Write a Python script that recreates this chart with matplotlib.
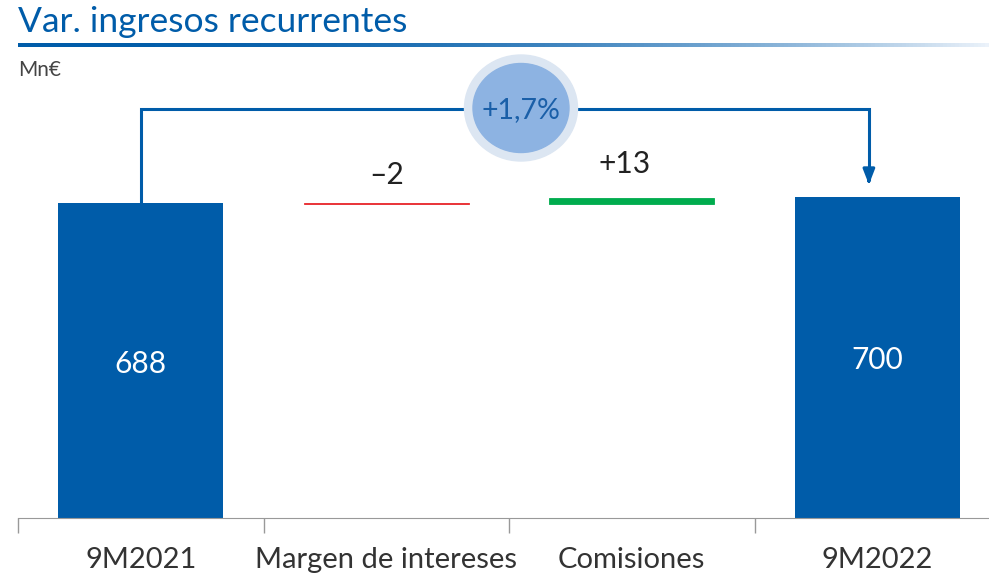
import matplotlib.pyplot as plt
import numpy as np
from matplotlib.patches import Ellipse

plt.rcParams['font.family'] = ['Lato', 'DejaVu Sans']

# data
categories = ['9M2021', 'Margen de intereses', 'Comisiones', '9M2022']
start_value = 688
deltas = [-2, 13]
end_value = 700
delta_labels = ['–2', '+13']
variation_label = '+1,7%'

blue = '#005CA9'
fig = plt.figure(figsize=(9.89, 5.77), dpi=100)

# main axes: x axis runs from 18 px to ~1000 px, baseline at 518 px
ax = fig.add_axes([18 / 989, 59 / 577, 982 / 989, 458 / 577])
x = np.arange(len(categories))
w = 0.672

ax.bar(x[0], start_value, width=w, color=blue)
ax.bar(x[3], end_value, width=w, color=blue)

base = start_value
colors = ['#E8272B', '#00AC4E']
for i, d in enumerate(deltas):
    bottom = base if d > 0 else base + d
    ax.bar(x[i + 1], abs(d), bottom=bottom, width=w, color=colors[i],
           edgecolor=colors[i], linewidth=0.6)
    base += d

ax.text(x[0], start_value / 2 - 8, str(start_value), color='white', ha='center', va='center', fontsize=21.5)
ax.text(x[3], end_value / 2 - 4, str(end_value), color='white', ha='center', va='center', fontsize=21.5)
ax.text(x[1], 748, delta_labels[0], ha='center', va='center', fontsize=21.5, color='#222222')
ax.text(x[2] - 0.028, 774, delta_labels[1], ha='center', va='center', fontsize=21.5, color='#222222')

# connector arrow
ax.plot([x[0], x[0], 2.966, 2.966], [start_value, 893, 893, 740], color=blue, lw=2.2,
        solid_joinstyle='miter')
ax.annotate('', xy=(2.966, 722), xytext=(2.966, 745),
            arrowprops=dict(arrowstyle='-|>,head_width=0.35,head_length=0.9', color=blue, lw=2.2))

ax.set_xlim(-0.5, 3.5)
ax.set_ylim(0, 1000)
ax.set_xticks(x)
ax.set_xticklabels(categories, fontsize=21, color='#333333')
ax.tick_params(axis='x', which='major', length=0, pad=21)
ax.set_xticks(np.arange(-0.5, 3.6, 1), minor=True)
ax.tick_params(axis='x', which='minor', length=11, color='#999999', width=1)
ax.set_yticks([])
for s in ['top', 'right', 'left']:
    ax.spines[s].set_visible(False)
ax.spines['bottom'].set_color('#999999')

# circle badge
cx, cy = 521 / 989, 1 - 108 / 577
fig.add_artist(Ellipse((cx, cy), 113 / 989, 106 / 577, transform=fig.transFigure,
                       color='#DCE6F2', zorder=5))
fig.add_artist(Ellipse((cx, cy), 96 / 989, 89 / 577, transform=fig.transFigure,
                       color='#8DB3E2', zorder=6))
fig.text(cx, cy - 0.003, variation_label, ha='center', va='center', fontsize=20.5,
         color='#1A5FA8', zorder=7)

# title and gradient line
fig.text(18 / 989, 1 - 22 / 577, 'Var. ingresos recurrentes', fontsize=25.5, color=blue,
         va='center', ha='left')
gax = fig.add_axes([18 / 989, 1 - 47 / 577, 971 / 989, 4 / 577])
grad = np.linspace(0, 1, 256)
c0 = np.array([0, 92, 169]) / 255
c1 = np.array([235, 242, 250]) / 255
t = grad ** 2.2
img = (c0[None, :] * (1 - t[:, None]) + c1[None, :] * t[:, None])[None, :, :]
gax.imshow(img, aspect='auto', extent=[0, 1, 0, 1])
gax.axis('off')

fig.text(18 / 989, 1 - 70 / 577, 'Mn€', fontsize=15, color='#444444', va='center', ha='left')

fig.savefig('out.png', dpi=100)
